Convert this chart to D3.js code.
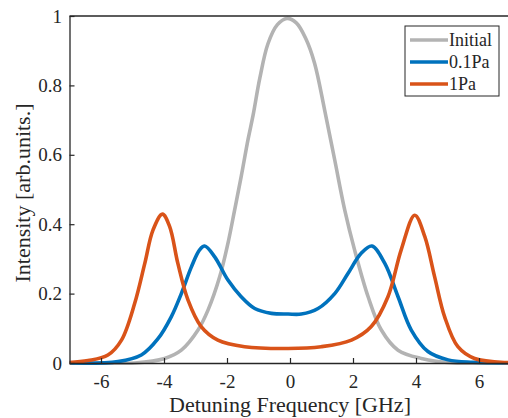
<!DOCTYPE html>
<html>
<head>
<meta charset="utf-8">
<script src="https://cdn.jsdelivr.net/npm/d3@7"></script>
<style>
  body { margin: 0; background: #fff; }
  svg text { font-family: "Liberation Serif", "Times New Roman", "DejaVu Serif", serif; }
</style>
</head>
<body>
<svg id="chart" width="508" height="418"></svg>
<script>
// Series (detuning GHz, intensity)
const initialX = [-7, -4.93, -3.98, -3.45, -2.92, -2.6, -2.23, -1.97, -1.76, -1.55, -1.33, -1.17, -0.96, -0.7, -0.4, -0.1, 0.2, 0.5, 0.78, 1.1, 1.42, 1.74, 2.05, 2.48, 2.9, 3.43, 4.17, 5.2, 7];
const initialY = [0, 0.0, 0.013, 0.037, 0.095, 0.153, 0.249, 0.345, 0.44, 0.537, 0.645, 0.715, 0.82, 0.92, 0.975, 0.993, 0.98, 0.935, 0.864, 0.729, 0.585, 0.44, 0.326, 0.191, 0.095, 0.037, 0.013, 0.0, 0];

const lowX = [-7, -5.46, -4.72, -4.19, -3.77, -3.45, -3.13, -2.87, -2.71, -2.39, -1.97, -1.55, -1.12, -0.59, -0.06, 0.36, 0.89, 1.42, 1.84, 2.26, 2.6, 3.01, 3.43, 3.85, 4.38, 5.02, 5.8, 7];
const lowY = [0, 0.004, 0.023, 0.07, 0.133, 0.2, 0.277, 0.326, 0.337, 0.306, 0.239, 0.191, 0.157, 0.143, 0.141, 0.141, 0.157, 0.2, 0.258, 0.316, 0.337, 0.287, 0.191, 0.095, 0.033, 0.009, 0.002, 0];

const highX = [-7.05, -6.41, -5.78, -5.35, -4.93, -4.61, -4.35, -4.05, -3.82, -3.56, -3.24, -2.82, -2.29, -1.44, -0.06, 0.99, 1.95, 2.58, 3.11, 3.53, 3.96, 4.28, 4.59, 4.91, 5.33, 5.86, 6.92, 7.1];
const highY = [0.001, 0.007, 0.023, 0.066, 0.172, 0.287, 0.383, 0.429, 0.393, 0.287, 0.182, 0.105, 0.066, 0.047, 0.042, 0.047, 0.066, 0.105, 0.191, 0.326, 0.426, 0.364, 0.249, 0.133, 0.047, 0.013, 0.001, 0.001];

const seriesNames = ["Initial", "0.1Pa", "1Pa"];
const seriesColors = ["#b3b3b3", "#0072bd", "#d95319"];
const xTicks = [-6, -4, -2, 0, 2, 4, 6];
const yTicks = [0, 0.2, 0.4, 0.6, 0.8, 1];

const series = [
  { name: seriesNames[0], color: seriesColors[0], pts: initialX.map((x, i) => [x, initialY[i]]) },
  { name: seriesNames[1], color: seriesColors[1], pts: lowX.map((x, i) => [x, lowY[i]]) },
  { name: seriesNames[2], color: seriesColors[2], pts: highX.map((x, i) => [x, highY[i]]) },
];

const serif = "'Liberation Serif', 'Times New Roman', 'DejaVu Serif', serif";
const svg = d3.select("#chart");
const margin = { top: 16, left: 69.5, bottom: 363 };

const x = d3.scaleLinear().domain([-7, 7]).range([margin.left, 510.5]);
const y = d3.scaleLinear().domain([0, 1]).range([margin.bottom, margin.top]);

svg.append("clipPath").attr("id", "clip")
  .append("rect").attr("x", margin.left).attr("y", 0).attr("width", 510.5 - margin.left).attr("height", margin.bottom + 2);

// lines
const line = d3.line().x(d => x(d[0])).y(d => y(d[1])).curve(d3.curveCatmullRom.alpha(0.5));
svg.append("g").attr("clip-path", "url(#clip)")
  .selectAll("path")
  .data(series)
  .join("path")
  .attr("d", d => line(d.pts))
  .attr("fill", "none")
  .attr("stroke", d => d.color)
  .attr("stroke-width", 3.6)
  .attr("stroke-linejoin", "round");

// axes, MATLAB style inward ticks, plain hyphen minus
const axisColor = "#262626";
const xAxis = svg.append("g")
  .attr("transform", "translate(0," + margin.bottom + ")")
  .call(d3.axisBottom(x).tickValues(xTicks).tickSize(-5).tickPadding(12).tickSizeOuter(0).tickFormat(d => String(d)));
const yAxis = svg.append("g")
  .attr("transform", "translate(" + margin.left + ",0)")
  .call(d3.axisLeft(y).tickValues(yTicks).tickSize(-5).tickPadding(7.5).tickSizeOuter(0).tickFormat(d => String(d)));

[xAxis, yAxis].forEach(g => {
  g.attr("font-family", serif).attr("font-size", 19);
  g.select(".domain").attr("stroke", axisColor).attr("stroke-width", 1.3);
  g.selectAll(".tick line").attr("stroke", axisColor).attr("stroke-width", 1.2);
  g.selectAll(".tick text").attr("fill", "#262626");
});

// top border
svg.append("line")
  .attr("x1", margin.left).attr("x2", 508)
  .attr("y1", margin.top).attr("y2", margin.top)
  .attr("stroke", axisColor).attr("stroke-width", 1.3);

// axis labels
svg.append("text")
  .attr("x", x(0)).attr("y", 412)
  .attr("text-anchor", "middle")
  .attr("fill", "#262626")
  .attr("font-family", serif)
  .attr("font-size", 22)
  .text("Detuning Frequency [GHz]");
svg.append("text")
  .attr("transform", "translate(30,193) rotate(-90)")
  .attr("text-anchor", "middle")
  .attr("fill", "#262626")
  .attr("font-family", serif)
  .attr("font-size", 22)
  .text("Intensity [arb.units.]");

// legend
const lg = svg.append("g");
lg.append("rect")
  .attr("x", 405).attr("y", 26).attr("width", 94).attr("height", 70)
  .attr("fill", "#fff").attr("stroke", axisColor).attr("stroke-width", 1);
const items = lg.selectAll("g.item")
  .data(series)
  .join("g")
  .attr("class", "item")
  .attr("transform", (d, i) => "translate(0," + (40 + i * 22) + ")");
items.append("line")
  .attr("x1", 410).attr("x2", 448)
  .attr("stroke", d => d.color).attr("stroke-width", 3.6);
items.append("text")
  .attr("x", 449).attr("y", 6)
  .attr("fill", "#262626")
  .attr("font-family", serif)
  .attr("font-size", 18)
  .text(d => d.name);
</script>
</body>
</html>
